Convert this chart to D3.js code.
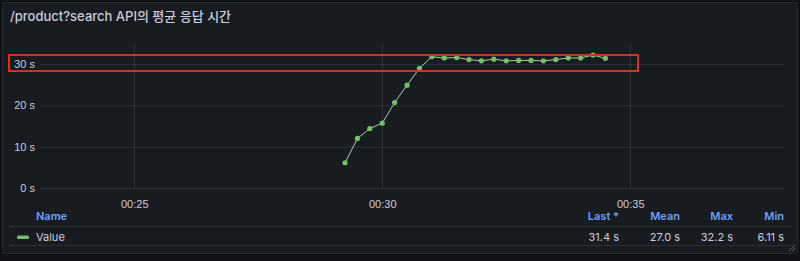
<!DOCTYPE html>
<html>
<head>
<meta charset="utf-8">
<script src="https://d3js.org/d3.v7.min.js"></script>
<style>
  body{ margin:0; background:#111217; }
  svg{ display:block; font-family: Inter, "Noto Sans CJK KR", sans-serif; }
  .grid line{ stroke: rgba(204,204,220,0.12); }
  .tick text{ fill:#ccccdc; font-size:11px; }
</style>
</head>
<body>
<script>

var title = "/product?search API의 평균 응답 시간";

// sample times (mm:ss after 00:00) and average response time in seconds
var times = ["29:15","29:30","29:45","30:00","30:15","30:30","30:45","31:00",
             "31:15","31:30","31:45","32:00","32:15","32:30","32:45","33:00",
             "33:15","33:30","33:45","34:00","34:15","34:30"];
var values = [6.11, 12.0, 14.4, 15.7, 20.7, 24.9, 29.0, 31.8,
              31.5, 31.6, 31.1, 30.8, 31.2, 30.8, 30.9, 30.9,
              30.8, 31.1, 31.5, 31.5, 32.2, 31.4];

var xTicks = ["00:25", "00:30", "00:35"];
var yTicks = [0, 10, 20, 30];

var legendCols = ["Last *", "Mean", "Max", "Min"];
var legendVals = ["31.4 s", "27.0 s", "32.2 s", "6.11 s"];

var width = 800, height = 261;
var parseT = d3.timeParse("%H:%M:%S");
var data = times.map(function(t, i){ return { t: parseT("00:" + t), v: values[i] }; });

var svg = d3.select("body").append("svg")
  .attr("width", width).attr("height", height);

// panel
svg.append("rect")
  .attr("x", 2.5).attr("y", 2.5).attr("width", 795).attr("height", 251)
  .attr("rx", 2)
  .attr("fill", "#181b1f").attr("stroke", "#24272c");

svg.append("text")
  .attr("x", 10).attr("y", 21)
  .attr("fill", "#ccccdc").attr("font-size", 13).attr("font-weight", 500)
  .text(title);

var x = d3.scaleTime()
  .domain([parseT("00:23:06"), parseT("00:38:06")])
  .range([40, 784]);
var y = d3.scaleLinear().domain([0, 35]).range([188, 43.5]);

// grid
var grid = svg.append("g").attr("class", "grid");
grid.selectAll(".h").data(yTicks).enter().append("line")
  .attr("x1", 40).attr("x2", 784)
  .attr("y1", function(d){ return y(d) + 0.5; })
  .attr("y2", function(d){ return y(d) + 0.5; });
grid.selectAll(".v").data(xTicks).enter().append("line")
  .attr("y1", 43).attr("y2", 188)
  .attr("x1", function(d){ return Math.round(x(parseT(d + ":00"))) + 0.5; })
  .attr("x2", function(d){ return Math.round(x(parseT(d + ":00"))) + 0.5; });

// axes
var xAxis = d3.axisBottom(x)
  .tickValues(xTicks.map(function(d){ return parseT(d + ":00"); }))
  .tickFormat(d3.timeFormat("%H:%M"))
  .tickSize(0).tickPadding(8);
svg.append("g").attr("transform", "translate(0,192)").call(xAxis)
  .call(function(g){ g.select(".domain").remove(); });

var yAxis = d3.axisLeft(y)
  .tickValues(yTicks)
  .tickFormat(function(d){ return d + " s"; })
  .tickSize(0).tickPadding(5);
svg.append("g").attr("transform", "translate(40,0)").call(yAxis)
  .call(function(g){ g.select(".domain").remove(); });

// series
var line = d3.line()
  .x(function(d){ return x(d.t); })
  .y(function(d){ return y(d.v); });

svg.append("path").datum(data)
  .attr("d", line)
  .attr("fill", "none")
  .attr("stroke", "#a9d3a2")
  .attr("stroke-width", 1);

svg.selectAll(".pt").data(data).enter().append("circle")
  .attr("cx", function(d){ return x(d.t); })
  .attr("cy", function(d){ return y(d.v); })
  .attr("r", 2.6)
  .attr("fill", "#73bf69");

// highlight box
svg.append("rect")
  .attr("x", 9).attr("y", 55).attr("width", 629).attr("height", 16)
  .attr("fill", "none")
  .attr("stroke", "#d8301c")
  .attr("stroke-width", 2);

// legend table
var colRight = [619, 680, 733, 784];
svg.append("text")
  .attr("x", 36).attr("y", 220)
  .attr("fill", "#6e9fff").attr("font-size", 11).attr("font-weight", 600)
  .text("Name");
svg.selectAll(".lh").data(legendCols).enter().append("text")
  .attr("x", function(d, i){ return colRight[i]; })
  .attr("y", 220).attr("text-anchor", "end")
  .attr("fill", "#6e9fff").attr("font-size", 11).attr("font-weight", 600)
  .text(function(d){ return d; });

svg.append("line").attr("x1", 10).attr("x2", 792).attr("y1", 226.5).attr("y2", 226.5)
  .attr("stroke", "#2c2f35");
svg.append("line").attr("x1", 10).attr("x2", 792).attr("y1", 245.5).attr("y2", 245.5)
  .attr("stroke", "#2c2f35");

svg.append("rect")
  .attr("x", 17).attr("y", 235.5).attr("width", 12).attr("height", 3.5).attr("rx", 1.5)
  .attr("fill", "#73bf69");
svg.append("text")
  .attr("x", 36).attr("y", 241)
  .attr("fill", "#ccccdc").attr("font-size", 11)
  .text("Value");
svg.selectAll(".lv").data(legendVals).enter().append("text")
  .attr("x", function(d, i){ return colRight[i]; })
  .attr("y", 241).attr("text-anchor", "end")
  .attr("fill", "#ccccdc").attr("font-size", 11)
  .text(function(d){ return d; });

// resize handle
svg.append("path")
  .attr("d", "M789,251 L795,245 M792,251 L795,248")
  .attr("stroke", "#5a5d63").attr("stroke-width", 1);

</script>
</body>
</html>
